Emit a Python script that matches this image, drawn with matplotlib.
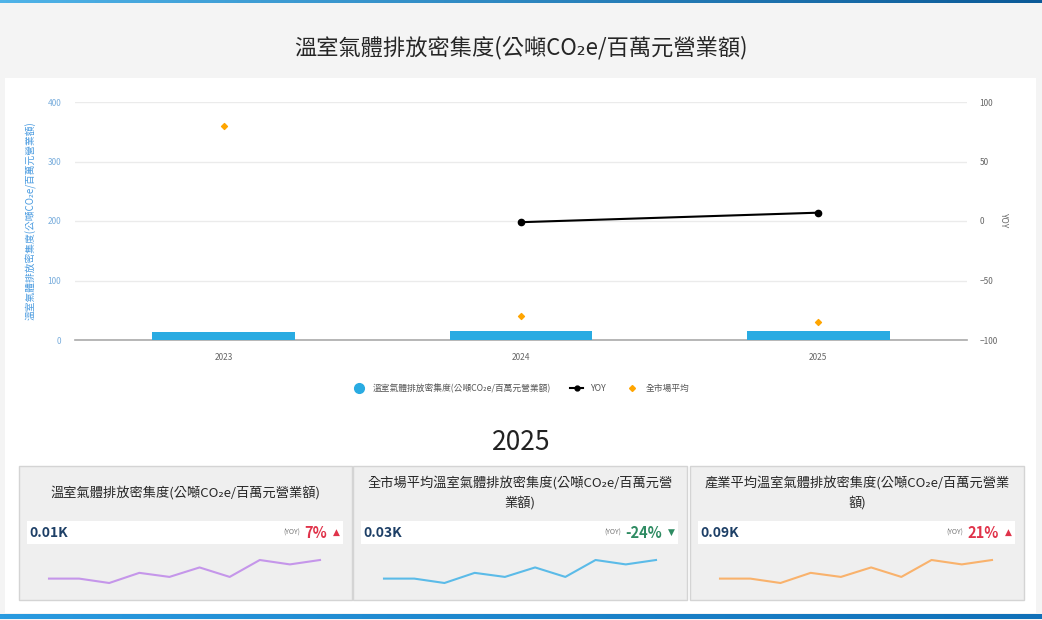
import numpy as np
import matplotlib
matplotlib.use('Agg')
import matplotlib.pyplot as plt
from matplotlib.lines import Line2D
from matplotlib.patches import Rectangle
from matplotlib.colors import LinearSegmentedColormap

plt.rcParams['font.family'] = ['Noto Sans CJK TC', 'DejaVu Sans']

# 資料
years = ['2023', '2024', '2025']
intensity = [14, 14.5, 15.5]          # 溫室氣體排放密集度
market_avg = [360, 40, 30.5]          # 全市場平均
yoy = [np.nan, -1, 7]                 # YOY (%)

title = '溫室氣體排放密集度(公噸CO₂e/百萬元營業額)'
series_label = '溫室氣體排放密集度(公噸CO₂e/百萬元營業額)'

card_titles = ['溫室氣體排放密集度(公噸CO₂e/百萬元營業額)',
               '全市場平均溫室氣體排放密集度(公噸CO₂e/百萬元營\n業額)',
               '產業平均溫室氣體排放密集度(公噸CO₂e/百萬元營業\n額)']
card_values = ['0.01K', '0.03K', '0.09K']
card_yoy = [7, -24, 21]
spark_values = [15, 15, 2, 32, 20, 48, 20, 70, 57, 70]
spark_colors = ['#c596ea', '#5bbbe8', '#f9b26c']

W, H = 1042, 620


def px_rect(x0, y0, x1, y1):
    return [x0 / W, 1 - y1 / H, (x1 - x0) / W, (y1 - y0) / H]


fig = plt.figure(figsize=(W / 100, H / 100), dpi=100, facecolor='#f4f4f4')

# 背景層 (像素座標)
bg = fig.add_axes([0, 0, 1, 1], zorder=0)
bg.set_xlim(0, W)
bg.set_ylim(H, 0)
bg.axis('off')
bg.add_patch(Rectangle((5, 78), 1031, 535, facecolor='white', edgecolor='none'))
grad = np.linspace(0, 1, 256).reshape(1, -1)
cmap_top = LinearSegmentedColormap.from_list('top', ['#4fb3e8', '#0b5a98'])
bg.imshow(grad, cmap=cmap_top, extent=(0, W, 3, 0), aspect='auto')
cmap_bot = LinearSegmentedColormap.from_list('bot', ['#2a9be0', '#1070b8'])
bg.imshow(grad, cmap=cmap_bot, extent=(0, W, 619, 614), aspect='auto')
bg.set_xlim(0, W)
bg.set_ylim(H, 0)

bg.text(521, 48, title, ha='center', va='center', fontsize=16, color='#262626')
bg.text(521, 443, '2025', ha='center', va='center', fontsize=19, color='#222222')

# 主圖
ax = fig.add_axes(px_rect(75, 102, 967, 340), zorder=2)
ax.set_facecolor('none')
x = np.arange(len(years))
ax.bar(x, intensity, width=0.48, color='#29abe2', zorder=3)
ax.scatter(x, market_avg, marker='D', s=9, color='#ffa500', zorder=5)
ax.set_xlim(-0.5, 2.5)
ax.set_ylim(0, 400)
ax.set_yticks([0, 100, 200, 300, 400])
ax.set_xticks(x)
ax.set_xticklabels(years)
ax.grid(axis='y', color='#ebebeb', linewidth=1)
ax.set_axisbelow(True)
for s in ['top', 'left', 'right']:
    ax.spines[s].set_visible(False)
ax.spines['bottom'].set_color('#aaaaaa')
ax.spines['bottom'].set_linewidth(1.2)
ax.tick_params(axis='y', length=0, labelsize=6, labelcolor='#7aaedd', pad=10)
ax.tick_params(axis='x', length=0, labelsize=6, labelcolor='#666666', pad=9)
ax.set_ylabel(series_label, fontsize=7, color='#4a9be0')
ax.yaxis.set_label_coords(-(75 - 37) / 892, 0.5)

ax2 = ax.twinx()
ax2.set_zorder(3)
ax2.set_facecolor('none')
ax2.plot(x, yoy, color='black', marker='o', markersize=4.5, linewidth=1.5, zorder=4)
ax2.set_ylim(-100, 100)
ax2.set_yticks([-100, -50, 0, 50, 100])
for s in ax2.spines.values():
    s.set_visible(False)
ax2.tick_params(axis='y', length=0, labelsize=6, labelcolor='#666666', pad=9)
ax2.set_ylabel('YOY', fontsize=6, color='#666666', rotation=270)
ax2.yaxis.set_label_coords((1008 - 75) / 892, 0.5)

handles = [
    Line2D([], [], marker='o', linestyle='none', markersize=7, color='#29abe2'),
    Line2D([], [], marker='o', color='black', markersize=3.5, linewidth=1.5),
    Line2D([], [], marker='D', linestyle='none', markersize=3, color='#ffa500'),
]
fig.legend(handles, [series_label, 'YOY', '全市場平均'], loc='center',
           bbox_to_anchor=(521 / W, 1 - 388 / H), ncol=3, frameon=False,
           fontsize=6.3, labelcolor='#555555', handlelength=1.5, columnspacing=2.2)

# 卡片
card_x = [(19, 352), (353, 687), (690, 1024)]
spark_x = [(49, 320), (384, 656), (720, 992)]
for i, (x0, x1) in enumerate(card_x):
    bg.add_patch(Rectangle((x0, 466), x1 - x0, 134, facecolor='#efefef',
                           edgecolor='#d4d4d4', linewidth=1))
    bg.add_patch(Rectangle((x0 + 8, 521), x1 - x0 - 17, 23, facecolor='white',
                           edgecolor='none'))
    bg.text((x0 + x1) / 2, 493, card_titles[i], ha='center', va='center',
            fontsize=9.5, color='#262626', linespacing=1.55)
    bg.text(x0 + 10, 533, card_values[i], ha='left', va='center', fontsize=10,
            fontweight='bold', color='#1d3f66')
    up = card_yoy[i] >= 0
    col = '#e0334a' if up else '#2e8b62'
    bg.text(x1 - 16, 532, '▲' if up else '▼', ha='center', va='center',
            fontsize=6.5, color=col, family=['DejaVu Sans'])
    pct = bg.text(x1 - 25, 533, f'{card_yoy[i]}%', ha='right', va='center',
                  fontsize=10.5, fontweight='bold', color=col)
    bg.annotate('(YOY)', xy=(0, 0.5), xycoords=pct, xytext=(-3, 0),
                textcoords='offset points', ha='right', va='center',
                fontsize=5, color='#777777')

    sx0, sx1 = spark_x[i]
    sax = fig.add_axes(px_rect(sx0, 560, sx1, 583), zorder=2)
    sax.set_facecolor('none')
    sax.plot(np.arange(len(spark_values)), spark_values, color=spark_colors[i],
             linewidth=1.5, clip_on=False)
    sax.set_xlim(0, len(spark_values) - 1)
    sax.set_ylim(min(spark_values), max(spark_values))
    sax.axis('off')

fig.savefig('out.png', dpi=100, facecolor=fig.get_facecolor())
